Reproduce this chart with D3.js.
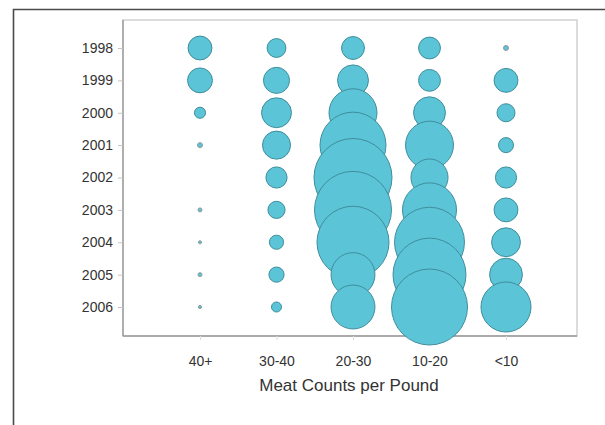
<!DOCTYPE html>
<html>
<head>
<meta charset="utf-8">
<script src="https://cdn.jsdelivr.net/npm/d3@7"></script>
<style>
  html, body { margin: 0; padding: 0; background: #fff; }
  svg { display: block; }
  text { font-family: "Liberation Sans", Arial, sans-serif; fill: #333; }
</style>
</head>
<body>
<svg id="chart" width="605" height="425"></svg>
<script>
// Categories (meat counts per pound) and years
const categories = ["40+", "30-40", "20-30", "10-20", "<10"];
const years = ["1998", "1999", "2000", "2001", "2002", "2003", "2004", "2005", "2006"];

// Bubble values (relative landings share), one array per category, by year
const v40plus = [3.7, 4.0, 0.8, 0.16, 0, 0.1, 0.06, 0.1, 0.06];
const v30_40  = [2.3, 4.4, 5.8, 5.1, 2.9, 1.9, 1.3, 1.5, 0.65];
const v20_30  = [3.4, 6.2, 14.9, 28.2, 39.4, 38.4, 33.6, 12.5, 12.5];
const v10_20  = [3.1, 3.1, 6.6, 14.9, 8.9, 18.9, 31.7, 34.5, 37.4];
const vUnder10 = [0.16, 3.7, 2.1, 1.46, 2.9, 3.7, 5.4, 7.0, 16.2];

const xTitle = "Meat Counts per Pound";

const seriesByCategory = {
  "40+": v40plus, "30-40": v30_40, "20-30": v20_30, "10-20": v10_20, "<10": vUnder10
};

const data = [];
years.forEach((yr, i) => {
  categories.forEach(c => data.push({ year: yr, cat: c, value: seriesByCategory[c][i] }));
});

const svg = d3.select("#chart");
const plot = { left: 123, top: 20, right: 577, bottom: 336 };

const x = d3.scalePoint().domain(categories).range([200, 506]);
const y = d3.scalePoint().domain(years).range([48, 307]);
const r = d3.scaleSqrt().domain([0, 40]).range([0, 39.3]);

// outer frame
svg.append("path")
  .attr("d", "M13.5,425V9.5H605")
  .attr("fill", "none").attr("stroke", "#4a4a4a").attr("stroke-width", 1.6);

// plot frame
svg.append("rect")
  .attr("x", plot.left).attr("y", plot.top)
  .attr("width", plot.right - plot.left).attr("height", plot.bottom - plot.top)
  .attr("fill", "none").attr("stroke", "#d4d4d4").attr("stroke-width", 1.6);

// axes
const yAxis = d3.axisLeft(y).tickSize(5).tickPadding(5);
const gy = svg.append("g").attr("transform", `translate(${plot.left},0)`).call(yAxis);
gy.select(".domain").attr("stroke", "#9a9a9a").attr("stroke-width", 1.4)
  .attr("d", `M0,${plot.top}V${plot.bottom}`);
gy.selectAll(".tick line").attr("stroke", "#c4c4c4");
gy.selectAll(".tick text").attr("font-size", 14).attr("fill", "#333")
  .style("font-family", "'Liberation Sans', Arial, sans-serif");

const xAxis = d3.axisBottom(x).tickSize(4).tickPadding(16);
const gx = svg.append("g").attr("transform", `translate(0,${plot.bottom})`).call(xAxis);
gx.select(".domain").attr("stroke", "#9a9a9a").attr("stroke-width", 1.4)
  .attr("d", `M${plot.left},0H${plot.right}`);
gx.selectAll(".tick line").attr("stroke", "#dcdcdc");
gx.selectAll(".tick text").attr("font-size", 14).attr("fill", "#333")
  .style("font-family", "'Liberation Sans', Arial, sans-serif");

// bubbles, drawn year by year so later years overlap earlier ones
svg.append("g").selectAll("circle")
  .data(data.filter(d => d.value > 0))
  .join("circle")
  .attr("cx", d => x(d.cat))
  .attr("cy", d => y(d.year))
  .attr("r", d => r(d.value))
  .attr("fill", "#5cc4d7")
  .attr("stroke", d => r(d.value) < 3 ? "#8a9a9c" : "#3f8e9c")
  .attr("stroke-width", 1);

// x-axis title
svg.append("text")
  .attr("x", (plot.left + plot.right) / 2 - 1)
  .attr("y", 391)
  .attr("text-anchor", "middle")
  .attr("font-size", 17)
  .text(xTitle);
</script>
</body>
</html>
